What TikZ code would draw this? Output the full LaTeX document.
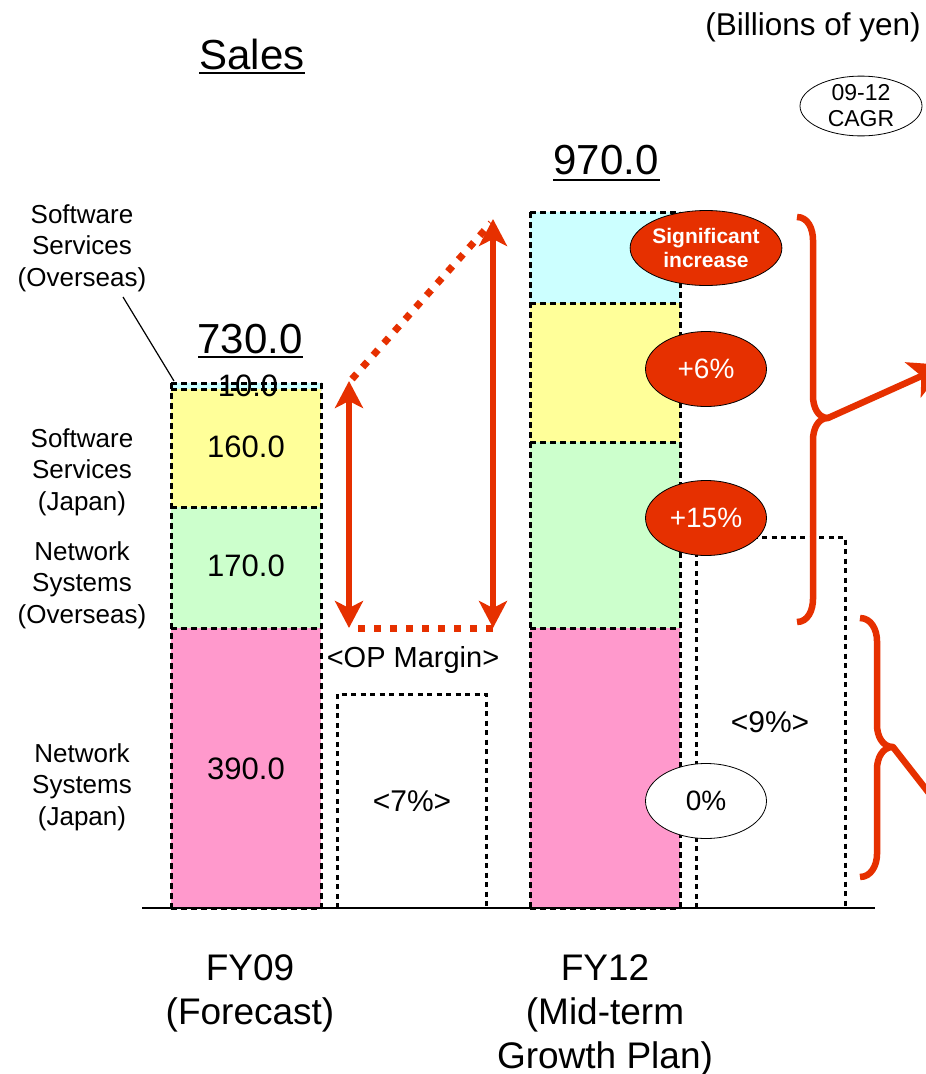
\documentclass[tikz,border=0pt]{standalone}
\usepackage{fontspec}
\setmainfont{Liberation Sans}
\usetikzlibrary{arrows.meta,shapes.geometric,calc}

\definecolor{accent}{RGB}{230,48,0}
\definecolor{segcyan}{RGB}{204,255,255}
\definecolor{segyellow}{RGB}{255,255,153}
\definecolor{seggreen}{RGB}{204,255,204}
\definecolor{segpink}{RGB}{255,153,204}

\begin{document}
\begin{tikzpicture}[x=1pt,y=-1pt,
  every node/.style={inner sep=0pt},
  segborder/.style={draw=black, line width=3pt, dash pattern=on 6pt off 4pt},
  opbox/.style={draw=black, line width=3pt, dash pattern=on 5pt off 4.5pt},
  lbl/.style={font=\fontsize{26}{31.5}\selectfont, align=center},
  val/.style={font=\fontsize{31}{36}\selectfont},
  total/.style={font=\fontsize{42}{48}\selectfont},
  yearlbl/.style={font=\fontsize{37}{44}\selectfont, align=center},
  growth/.style={ellipse, draw=black, line width=0.8pt, fill=accent, text=white,
    minimum width=121pt, minimum height=75pt, font=\fontsize{28}{32}\selectfont},
  dblarrow/.style={draw=accent, line width=5.5pt,
    {Stealth[length=27pt,width=28pt,inset=7pt]}-{Stealth[length=27pt,width=28pt,inset=7pt]}},
  reddots/.style={draw=accent, line width=7pt, dash pattern=on 7pt off 9pt},
  bracestyle/.style={draw=accent, line width=6.5pt, line join=round},
  bracearrow/.style={draw=accent, line width=6.5pt, -{Stealth[length=36pt,width=38pt,inset=9pt]}}
]
\clip (0,0) rectangle (926,1074);
\fill[white] (0,0) rectangle (926,1074);

% headings
\node[font=\fontsize{42}{48}\selectfont] (title) at (252,54) {Sales};
\draw[line width=2pt] (199,73) -- (305,73);
\node[font=\fontsize{31.5}{36}\selectfont] (unit) at (813,27) {(Billions of yen)};
\node[ellipse, draw=black, line width=0.8pt, minimum width=122pt, minimum height=57pt,
  font=\fontsize{23}{26}\selectfont, align=center] (cagr) at (861,106) {09-12\\CAGR};

% FY09 stacked bar
\fill[segpink]   (171,628) rectangle (321,908);
\fill[seggreen]  (171,507) rectangle (321,628);
\fill[segyellow] (171,389) rectangle (321,507);
\fill[segcyan]   (171,383) rectangle (321,389);

% FY12 stacked bar
\fill[segpink]   (530,628) rectangle (680,908);
\fill[seggreen]  (530,442) rectangle (680,628);
\fill[segyellow] (530,303) rectangle (680,442);
\fill[segcyan]   (530,212) rectangle (680,303);

% values inside FY09 bar
\node[val] (v10)  at (248,386) {10.0};
\node[val] (v160) at (246,447) {160.0};
\node[val] (v170) at (246,566) {170.0};
\node[val] (v390) at (246,769) {390.0};

% segment borders: sides once per bar, one line per boundary
\foreach \xa/\xb/\ytop in {171/321/383, 530/680/212} {
  \draw[segborder] (\xa,\ytop) -- (\xa,908);
  \draw[segborder] (\xb,\ytop) -- (\xb,908);
}
\foreach \yy in {383,389,507,628,908}
  \draw[segborder] (171,\yy) -- (321,\yy);
\foreach \yy in {212,303,442,628,908}
  \draw[segborder] (530,\yy) -- (680,\yy);

% operating margin boxes
\draw[opbox] (337,908) -- (337,694) -- (486,694) -- (486,908);
\draw[opbox] (696,908) -- (696,537) -- (845,537) -- (845,908);
\node[font=\fontsize{29}{34}\selectfont] (opm) at (413,660) {<OP Margin>};
\node[font=\fontsize{30}{36}\selectfont] (op09) at (412,801) {<7\%>};
\node[font=\fontsize{30}{36}\selectfont] (op12) at (770,722) {<9\%>};

% axis
\draw[line width=2pt] (142,908) -- (875,908);

% totals
\node[total] (t09) at (250,339) {730.0};
\draw[line width=2pt] (198,357) -- (303,357);
\node[total] (t12) at (606,160) {970.0};
\draw[line width=2pt] (553,180) -- (660,180);

% segment labels
\node[lbl] (lSSO) at (82,248) {Software\\Services\\(Overseas)};
\node[lbl] (lSSJ) at (82,472) {Software\\Services\\(Japan)};
\node[lbl] (lNSO) at (82,585) {Network\\Systems\\(Overseas)};
\node[lbl] (lNSJ) at (82,787) {Network\\Systems\\(Japan)};
\coordinate (leadA) at (123,297);
\coordinate (leadB) at (174,381);
\draw[line width=1.2pt] (leadA) -- (leadB);

% year labels
\node[yearlbl] (y09) at (250,993) {FY09\\(Forecast)};
\node[yearlbl] (y12) at (605,1015) {FY12\\(Mid-term\\Growth Plan)};

% growth arrows between the bars
\coordinate (a1top) at (349,381);
\coordinate (a1bot) at (349,628);
\coordinate (a2top) at (493,219);
\coordinate (a2bot) at (493,628);
\draw[reddots] (358,628) -- (494,628);
\draw[reddots] (352,379) -- (491,223);
\draw[dblarrow] (a1bot) -- (a1top);
\draw[dblarrow] (a2bot) -- (a2top);

% CAGR ellipses
\node[growth, font=\bfseries\fontsize{21}{24}\selectfont, align=center] (g1) at (706,248) {Significant\\increase};
\node[growth] (g2) at (706,369) {+6\%};
\node[growth] (g3) at (706,518) {+15\%};
\node[ellipse, draw=black, line width=0.8pt, fill=white, minimum width=121pt,
  minimum height=75pt, font=\fontsize{28}{32}\selectfont] (g4) at (706,801) {0\%};

% braces grouping the segments
\coordinate (b1cusp) at (828,418);
\coordinate (b1end) at (946,365);
\draw[bracestyle] (797,217) to[out=0,in=90] (813,240) -- (813,396)
  to[out=-90,in=180] (b1cusp) to[out=180,in=90] (813,440) -- (813,599)
  to[out=-90,in=0] (797,622);
\draw[bracearrow] (b1cusp) -- (b1end);

\coordinate (b2cusp) at (893,747);
\coordinate (b2end) at (975,852);
\draw[bracestyle] (860,618) to[out=0,in=90] (877,641) -- (877,725)
  to[out=-90,in=180] (b2cusp) to[out=180,in=90] (877,769) -- (877,854)
  to[out=-90,in=0] (860,877);
\draw[bracearrow] (b2cusp) -- (b2end);
\end{tikzpicture}
\end{document}
